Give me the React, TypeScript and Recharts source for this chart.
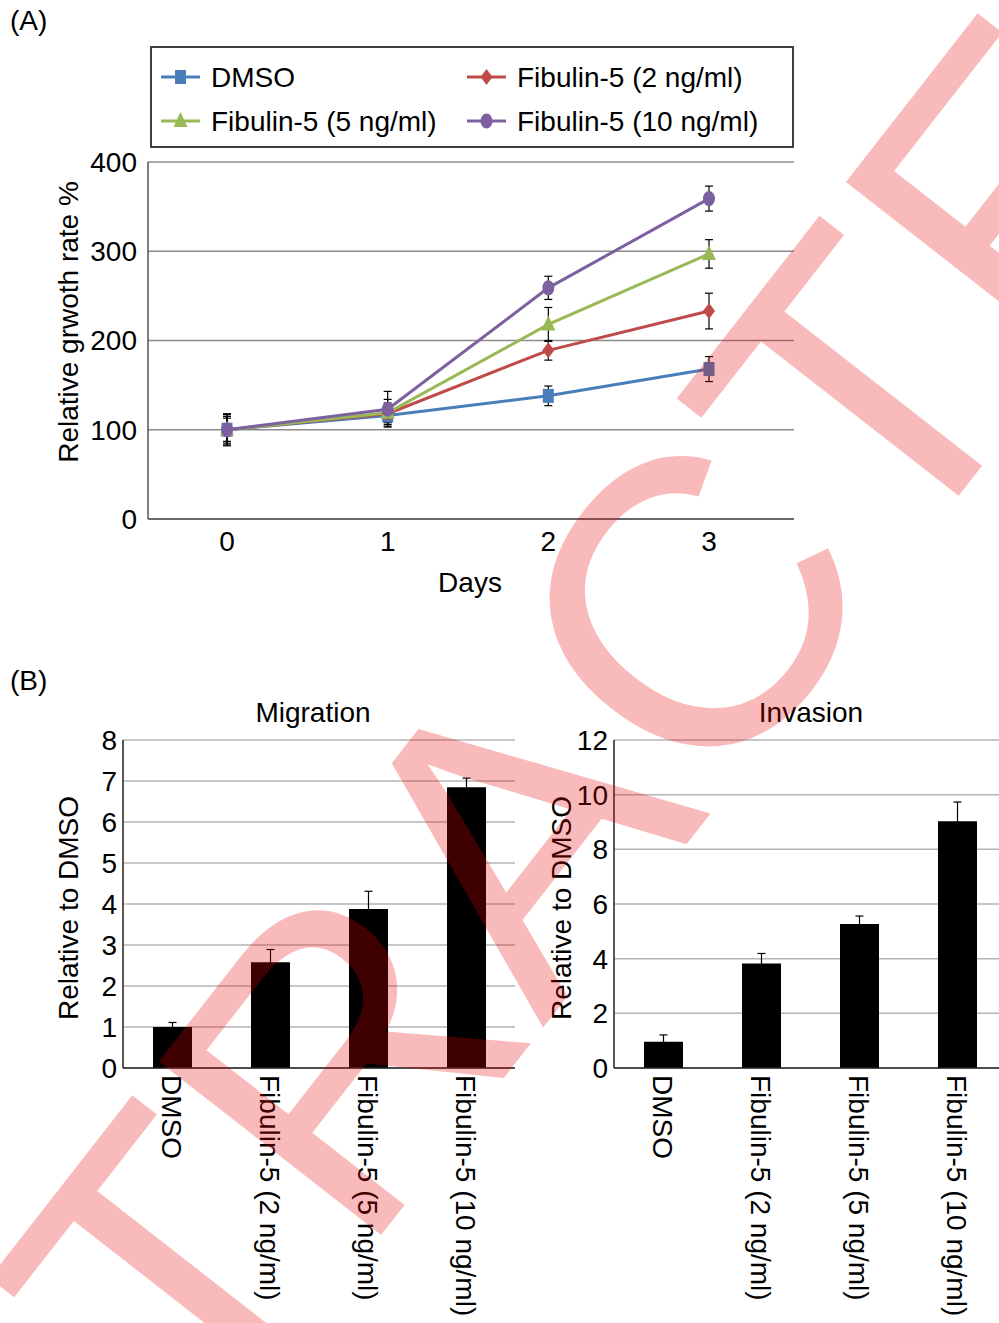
import React from 'react';
import { LineChart, Line, BarChart, Bar, XAxis, YAxis, CartesianGrid, ErrorBar } from 'recharts';

const FONT = '"Liberation Sans", Arial, Helvetica, sans-serif';

// (A) growth curve
const days = ['0', '1', '2', '3'];
const dmso = [100, 116, 138, 168];
const dmsoErr = [15, 8, 11, 14];
const fib2 = [100, 118, 189, 233];
const fib2Err = [17, 12, 11, 20];
const fib5 = [100, 119, 218, 297];
const fib5Err = [13, 15, 19, 16];
const fib10 = [100, 123, 259, 359];
const fib10Err = [18, 20, 13, 14];
const growthTicks = [0, 100, 200, 300, 400];

// (B) migration / invasion
const groups = ['DMSO', 'Fibulin-5 (2 ng/ml)', 'Fibulin-5 (5 ng/ml)', 'Fibulin-5 (10 ng/ml)'];
const migration = [1.0, 2.58, 3.88, 6.85];
const migrationErr = [0.11, 0.31, 0.43, 0.22];
const invasion = [0.96, 3.82, 5.27, 9.03];
const invasionErr = [0.25, 0.37, 0.29, 0.7];
const migrationTicks = [0, 1, 2, 3, 4, 5, 6, 7, 8];
const invasionTicks = [0, 2, 4, 6, 8, 10, 12];

const series = [
  { key: 'dmso', name: 'DMSO', color: '#4a7ebb', shape: 'square' },
  { key: 'fib2', name: 'Fibulin-5 (2 ng/ml)', color: '#be4b48', shape: 'diamond' },
  { key: 'fib5', name: 'Fibulin-5 (5 ng/ml)', color: '#98b954', shape: 'triangle' },
  { key: 'fib10', name: 'Fibulin-5 (10 ng/ml)', color: '#7d60a0', shape: 'circle' },
];

const growthData = days.map((day, i) => ({
  day,
  dmso: dmso[i],
  dmsoErr: dmsoErr[i],
  fib2: fib2[i],
  fib2Err: fib2Err[i],
  fib5: fib5[i],
  fib5Err: fib5Err[i],
  fib10: fib10[i],
  fib10Err: fib10Err[i],
}));

const migrationData = groups.map((name, i) => ({ name, value: migration[i], err: migrationErr[i] }));
const invasionData = groups.map((name, i) => ({ name, value: invasion[i], err: invasionErr[i] }));

const Marker = ({ shape, cx, cy, color }: any) => {
  if (cx == null || cy == null) return null;
  switch (shape) {
    case 'square':
      return <rect x={cx - 5.5} y={cy - 7} width={11} height={14} fill={color} />;
    case 'diamond':
      return <polygon points={`${cx},${cy - 8} ${cx + 6},${cy} ${cx},${cy + 8} ${cx - 6},${cy}`} fill={color} />;
    case 'triangle':
      return <polygon points={`${cx},${cy - 9} ${cx + 7},${cy + 6} ${cx - 7},${cy + 6}`} fill={color} />;
    default:
      return <ellipse cx={cx} cy={cy} rx={6} ry={7.5} fill={color} />;
  }
};

const txt = { fontFamily: FONT, fontSize: 28, fill: '#000' };

const vLabel = (text: string, x: number, y: number) => () => (
  <text x={x} y={y} dy="0.35em" textAnchor="middle" transform={`rotate(-90 ${x} ${y})`} style={txt}>
    {text}
  </text>
);

const RotTick = (props: any) => {
  const { x, y, payload } = props;
  return (
    <text x={x} y={y} dy="0.35em" textAnchor="start" transform={`rotate(90 ${x} ${y})`} style={txt}>
      {payload.value}
    </text>
  );
};

const GrowthChart = () => (
  <LineChart width={999} height={620} data={growthData} margin={{ top: 162, right: 205, bottom: 0, left: 0 }}>
    <CartesianGrid vertical={false} stroke="#8c8c8c" strokeWidth={1.5} />
    <XAxis
      dataKey="day"
      height={101}
      padding={{ left: 79, right: 85 }}
      tickSize={0}
      tickMargin={12}
      tick={txt}
      axisLine={{ stroke: '#555', strokeWidth: 1.5 }}
      label={() => (
        <text x={470} y={592} textAnchor="middle" style={txt}>
          Days
        </text>
      )}
    />
    <XAxis xAxisId="top" dataKey="day" orientation="top" height={0} tick={false} tickLine={false} axisLine={{ stroke: '#555', strokeWidth: 1.5 }} />
    <YAxis
      width={148}
      domain={[0, 400]}
      ticks={growthTicks}
      tickSize={0}
      tickMargin={11}
      tick={txt}
      axisLine={{ stroke: '#555', strokeWidth: 1.5 }}
      label={vLabel('Relative grwoth rate %', 68, 322)}
    />
    <YAxis yAxisId="right" orientation="right" width={0} tick={false} tickLine={false} axisLine={{ stroke: '#555', strokeWidth: 1.5 }} />
    {series.map((s) => (
      <Line
        key={s.key}
        dataKey={s.key}
        name={s.name}
        stroke={s.color}
        strokeWidth={3}
        isAnimationActive={false}
        dot={(p: any) => <Marker key={`${s.key}-${p.index}`} shape={s.shape} cx={p.cx} cy={p.cy} color={s.color} />}
        activeDot={false}
      >
        <ErrorBar dataKey={`${s.key}Err`} direction="y" width={4} stroke="#000" strokeWidth={1.2} />
      </Line>
    ))}
  </LineChart>
);

const BarPanel = ({ data, ticks, max, chartWidth, yWidth, rightMargin, labelX }: any) => (
  <BarChart width={chartWidth} height={633} data={data} margin={{ top: 50, right: rightMargin, bottom: 0, left: 0 }}>
    <CartesianGrid vertical={false} stroke="#b4b4b4" strokeWidth={1.5} />
    <XAxis dataKey="name" height={255} interval={0} tickSize={0} tickMargin={7} tick={<RotTick />} axisLine={{ stroke: '#222', strokeWidth: 1.5 }} />
    <XAxis xAxisId="top" dataKey="name" orientation="top" height={0} tick={false} tickLine={false} axisLine={{ stroke: '#222', strokeWidth: 1.5 }} />
    <YAxis
      width={yWidth}
      domain={[0, max]}
      ticks={ticks}
      tickSize={0}
      tickMargin={6}
      tick={txt}
      axisLine={{ stroke: '#222', strokeWidth: 1.5 }}
      label={vLabel('Relative to DMSO', labelX, 218)}
    />
    <YAxis yAxisId="right" orientation="right" width={0} tick={false} tickLine={false} axisLine={{ stroke: '#222', strokeWidth: 1.5 }} />
    <Bar dataKey="value" fill="#000" barSize={39} isAnimationActive={false}>
      <ErrorBar dataKey="err" direction="y" width={4} stroke="#000" strokeWidth={1.2} />
    </Bar>
  </BarChart>
);

const legendPos = [
  { x: 161, y: 77 },
  { x: 467, y: 77 },
  { x: 161, y: 121 },
  { x: 467, y: 121 },
];

const Annotations = () => (
  <svg width={999} height={1323} style={{ position: 'absolute', left: 0, top: 0 }}>
    <text x={10} y={30} style={txt}>(A)</text>
    <text x={10} y={690} style={txt}>(B)</text>
    <text x={313} y={722} textAnchor="middle" style={txt}>Migration</text>
    <text x={811} y={722} textAnchor="middle" style={txt}>Invasion</text>
    <rect x={151} y={47} width={642} height={100} fill="#fff" stroke="#404040" strokeWidth={2} />
    {series.map((s, i) => {
      const p = legendPos[i];
      return (
        <g key={s.key}>
          <line x1={p.x} y1={p.y} x2={p.x + 39} y2={p.y} stroke={s.color} strokeWidth={3} />
          <Marker shape={s.shape} cx={p.x + 19.5} cy={p.y} color={s.color} />
          <text x={p.x + 50} y={p.y + 10} style={txt}>{s.name}</text>
        </g>
      );
    })}
  </svg>
);

const Watermark = () => (
  <svg width={999} height={1323} style={{ position: 'absolute', left: 0, top: 0, pointerEvents: 'none' }}>
    <text
      x={0}
      y={147}
      textAnchor="middle"
      transform="translate(511 830) rotate(-52)"
      style={{ fontFamily: FONT, fontSize: 410, fill: 'rgb(230,0,0)', fillOpacity: 0.27 }}
    >
      RETRACTED
    </text>
  </svg>
);

export default function App() {
  return (
    <div style={{ position: 'absolute', left: 0, top: 0, width: 999, height: 1323, overflow: 'hidden', background: '#fff', fontFamily: FONT }}>
      <Annotations />
      <div style={{ position: 'absolute', left: 0, top: 0 }}>
        <GrowthChart />
      </div>
      <div style={{ position: 'absolute', left: 0, top: 690 }}>
        <BarPanel data={migrationData} ticks={migrationTicks} max={8} chartWidth={540} yWidth={123} rightMargin={25} labelX={68} />
      </div>
      <div style={{ position: 'absolute', left: 500, top: 690 }}>
        <BarPanel data={invasionData} ticks={invasionTicks} max={12} chartWidth={520} yWidth={114} rightMargin={14} labelX={61} />
      </div>
      <Watermark />
    </div>
  );
}
